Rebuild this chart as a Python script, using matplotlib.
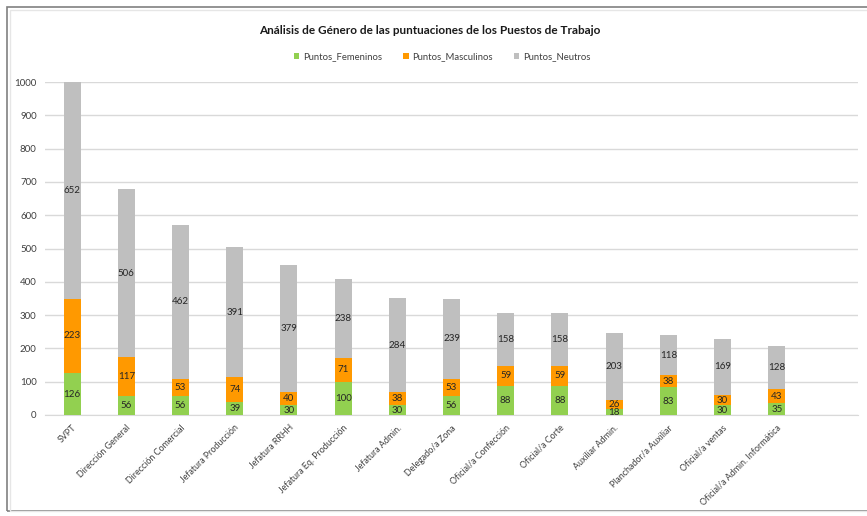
import matplotlib
matplotlib.use("Agg")
import matplotlib.pyplot as plt
from matplotlib.patches import Rectangle
import numpy as np

plt.rcParams['font.family'] = ['Lato', 'DejaVu Sans']

categories = ["SVPT", "Dirección General", "Dirección Comercial", "Jefatura Producción",
              "Jefatura RRHH", "Jefatura Eq. Producción", "Jefatura Admin.", "Delegado/a Zona",
              "Oficial/a Confección", "Oficial/a Corte", "Auxiliar Admin.",
              "Planchador/a Auxiliar", "Oficial/a ventas", "Oficial/a Admin. Informática"]
femeninos = [126, 56, 56, 39, 30, 100, 30, 56, 88, 88, 18, 83, 30, 35]
masculinos = [223, 117, 53, 74, 40, 71, 38, 53, 59, 59, 26, 38, 30, 43]
neutros = [652, 506, 462, 391, 379, 238, 284, 239, 158, 158, 203, 118, 169, 128]
series_names = ["Puntos_Femeninos", "Puntos_Masculinos", "Puntos_Neutros"]
colors = ["#92D050", "#FF9900", "#BFBFBF"]

fig = plt.figure(figsize=(8.67, 5.16), dpi=100)
ax = fig.add_axes([45/867, 101/516, (858-45)/867, (415-82)/516])

x = np.arange(len(categories))
w = 0.31
bottom = np.zeros(len(categories))
for vals, name, c in zip([femeninos, masculinos, neutros], series_names, colors):
    vals = np.array(vals)
    ax.bar(x, vals, w, bottom=bottom, color=c, label=name, zorder=3)
    for xi, b, v in zip(x, bottom, vals):
        ax.text(xi, b + v/2, str(v), ha='center', va='center', fontsize=7,
                color='#262626', zorder=4)
    bottom = bottom + vals

ax.set_xlim(-0.5, len(categories) + 0.5)
ax.set_ylim(0, 1000)
ax.set_yticks(np.arange(0, 1001, 100))
ax.yaxis.grid(True, color='#D9D9D9', linewidth=1.0, zorder=0)
ax.set_axisbelow(True)
for s in ['top', 'right', 'left']:
    ax.spines[s].set_visible(False)
ax.spines['bottom'].set_color('#D9D9D9')
ax.tick_params(axis='y', length=0, labelsize=7, colors='#404040', pad=6)
ax.set_xticks(x)
ax.set_xticklabels(categories, rotation=45, ha='right', rotation_mode='anchor')
ax.tick_params(axis='x', length=0, labelsize=6.4, colors='#404040', pad=6)

fig.text(430/867, 1 - 30/516, "Análisis de Género de las puntuaciones de los Puestos de Trabajo",
         ha='center', va='center', fontsize=8.5, fontweight='bold', color='#1a1a1a')
fig.legend(loc='center', bbox_to_anchor=(442/867, 1 - 57/516), ncol=3, frameon=False,
           fontsize=6.8, handlelength=0.6, handleheight=0.6, columnspacing=2.2,
           handletextpad=0.4, labelcolor='#404040')

fig.patches.append(Rectangle((7/867, 5/516), 1.2, 1 - 12/516, transform=fig.transFigure,
                             fill=False, edgecolor='#808080', linewidth=1.2, zorder=0))
fig.patches.append(Rectangle((10/867, 5/516), 1.2, 1 - 15/516, transform=fig.transFigure,
                             fill=False, edgecolor='#E6E6E6', linewidth=1.0, zorder=0))

fig.savefig("out.png", dpi=100)
